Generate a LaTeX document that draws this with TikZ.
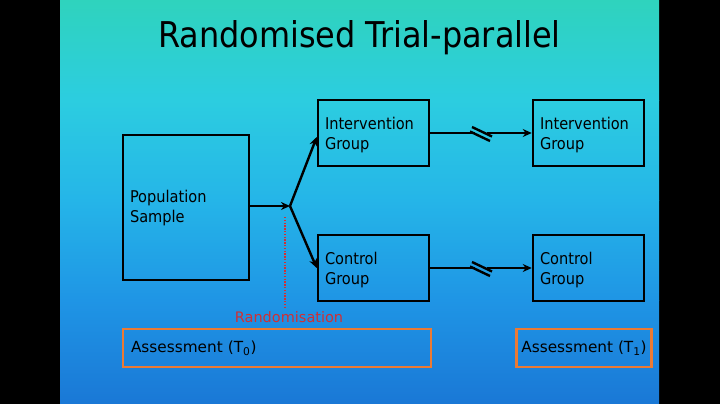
\documentclass[tikz,border=0pt]{standalone}
\usepackage{fontspec}
\setmainfont{DejaVu Sans Condensed}
\newfontfamily\handfont{DejaVu Sans}
\usetikzlibrary{arrows.meta,calc}
\definecolor{bgA}{RGB}{47,211,189}
\definecolor{bgB}{RGB}{44,205,224}
\definecolor{bgC}{RGB}{37,181,232}
\definecolor{bgD}{RGB}{31,149,229}
\definecolor{bgE}{RGB}{26,120,214}
\definecolor{boxorange}{RGB}{236,122,52}
\definecolor{randred}{RGB}{208,48,52}
\tikzset{
  box/.style={draw=black, line width=2.5pt, align=left, inner xsep=7pt, inner ysep=0pt,
    font=\fontsize{16.2}{20}\selectfont},
  obox/.style={draw=boxorange, line width=2.8pt, align=left, inner ysep=0pt,
    font=\handfont\fontsize{15.3}{18}\selectfont},
  conn/.style={line width=2.4pt, -{Stealth[length=9pt,width=8pt]}},
  plain/.style={line width=2.4pt},
}
\begin{document}
\begin{tikzpicture}[x=1pt,y=-1pt]
\fill[black] (0,0) rectangle (720,404);
\shade[top color=bgA,bottom color=bgB] (60,0) rectangle (659,100.5);
\shade[top color=bgB,bottom color=bgC] (60,100) rectangle (659,200.5);
\shade[top color=bgC,bottom color=bgD] (60,200) rectangle (659,300.5);
\shade[top color=bgD,bottom color=bgE] (60,300) rectangle (659,404);
\useasboundingbox (0,0) rectangle (720,404);

\node[anchor=base, font=\fontsize{35.5}{40}\selectfont] (title) at (359.5,48) {Randomised Trial-parallel};

\node[box, minimum width=126pt, minimum height=145pt, text width=112pt] (pop) at (186,207.5) {\rule{0pt}{14pt}Population\\Sample};
\node[box, minimum width=111pt, minimum height=66pt, text width=97pt] (int1) at (373.5,133) {\rule{0pt}{17pt}Intervention\\Group};
\node[box, minimum width=111pt, minimum height=66pt, text width=97pt] (ctl1) at (373.5,268) {\rule{0pt}{17pt}Control\\Group};
\node[box, minimum width=111pt, minimum height=66pt, text width=97pt] (int2) at (588.5,133) {\rule{0pt}{17pt}Intervention\\Group};
\node[box, minimum width=111pt, minimum height=66pt, text width=97pt] (ctl2) at (588.5,268) {\rule{0pt}{17pt}Control\\Group};

\node[obox, minimum width=308pt, minimum height=38pt, text width=292pt, inner xsep=8pt] (as0) at (277,348) {Assessment (T\textsubscript{0})};
\node[obox, minimum width=135.5pt, minimum height=38pt, inner xsep=0pt] (as1) at (584,348) {Assessment (T\textsubscript{1})};

\coordinate (br) at (290,206);
\draw[conn] (pop.east |- br) -- (br);
\draw[conn] (br) -- ([yshift=-4pt]int1.west);
\draw[conn] (br) -- (ctl1.west);

% red dotted randomisation line
\coordinate (rd1) at (285,217);
\coordinate (rd2) at (285,308);
\draw[randred, line width=1.3pt, dash pattern=on 1.3pt off 1.5pt] (rd1) -- (rd2);
\node[text=randred, font=\handfont\fontsize{14.5}{16}\selectfont, inner sep=0pt] (rnd) at (289,317.5) {Randomisation};

% time-break arrows
\foreach \a/\b in {int1/int2, ctl1/ctl2} {
  \coordinate (bk) at ($(\a.east)!0.5!(\b.west)$);
  \draw[plain] (\a.east) -- ([xshift=-6pt]bk);
  \draw[conn] ([xshift=6pt]bk) -- (\b.west);
  \draw[plain] ([shift={(-11pt,1.5pt)}]bk) -- ([shift={(9pt,-8pt)}]bk);
  \draw[plain] ([shift={(-9pt,6pt)}]bk) -- ([shift={(11pt,-3.5pt)}]bk);
}
\end{tikzpicture}
\end{document}
